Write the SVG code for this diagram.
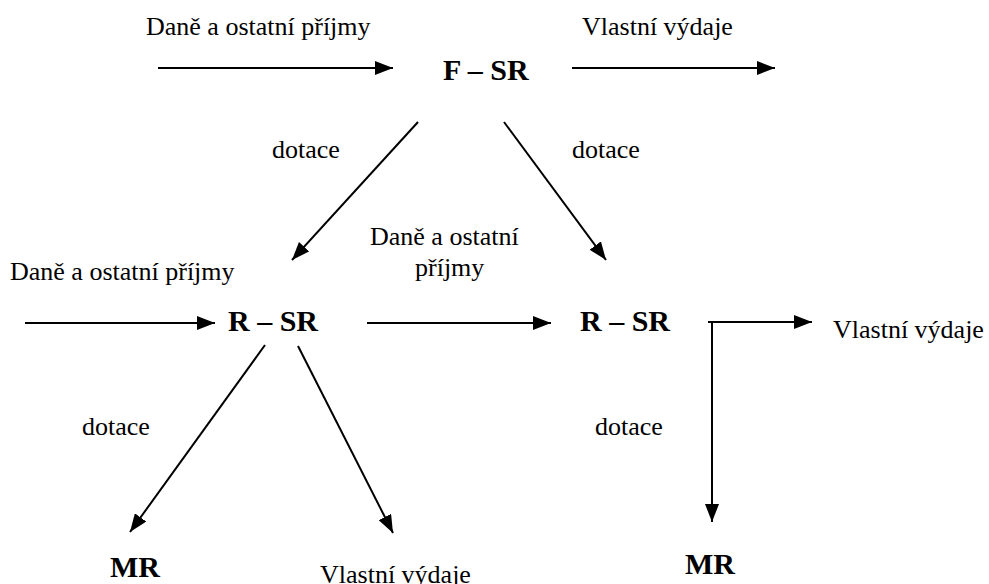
<svg xmlns="http://www.w3.org/2000/svg" width="989" height="584" viewBox="0 0 989 584">
<defs>
<marker id="ah" viewBox="0 0 18 14" refX="18" refY="7" markerWidth="18" markerHeight="14" markerUnits="userSpaceOnUse" orient="auto">
<path d="M0,0 L18,7 L0,14 Z" fill="#000"/>
</marker>
</defs>
<style>
text{font-family:'Liberation Serif',Tinos,'Times New Roman',Times,'DejaVu Serif',serif;fill:#000}
.t{font-size:26px}
.n{font-size:30px;font-weight:bold}
.c{stroke:#000;stroke-width:2;fill:none;marker-end:url(#ah)}
</style>
<rect width="989" height="584" fill="#fff"/>
<g id="connectors">
<line class="c" x1="158" y1="68" x2="393" y2="68"/>
<line class="c" x1="572" y1="68" x2="775" y2="68"/>
<line class="c" x1="418" y1="122" x2="292" y2="260"/>
<line class="c" x1="504" y1="122" x2="606" y2="260"/>
<line class="c" x1="25" y1="323" x2="215" y2="323"/>
<line class="c" x1="367" y1="323" x2="551" y2="323"/>
<path class="c" d="M708,322 H812"/>
<path class="c" d="M712,322 V522"/>
<line class="c" x1="265" y1="345" x2="130" y2="532"/>
<line class="c" x1="298" y1="346" x2="393" y2="533"/>
</g>
<g id="labels">
<text class="t" x="146" y="35">Daně a ostatní příjmy</text>
<text class="t" x="582" y="35">Vlastní výdaje</text>
<text class="t" x="272" y="158">dotace</text>
<text class="t" x="572" y="158">dotace</text>
<text class="t" x="370" y="245">Daně a ostatní</text>
<text class="t" x="415" y="276">příjmy</text>
<text class="t" x="10" y="280">Daně a ostatní příjmy</text>
<text class="t" x="833" y="338">Vlastní výdaje</text>
<text class="t" x="82" y="435">dotace</text>
<text class="t" x="595" y="435">dotace</text>
<text class="t" x="320" y="583">Vlastní výdaje</text>
</g>
<g id="node-fsr"><text class="n" x="443" y="80">F – SR</text></g>
<g id="node-rsr1"><text class="n" x="228" y="331">R – SR</text></g>
<g id="node-rsr2"><text class="n" x="580" y="331">R – SR</text></g>
<g id="node-mr1"><text class="n" x="110" y="577">MR</text></g>
<g id="node-mr2"><text class="n" x="685" y="574">MR</text></g>
</svg>
